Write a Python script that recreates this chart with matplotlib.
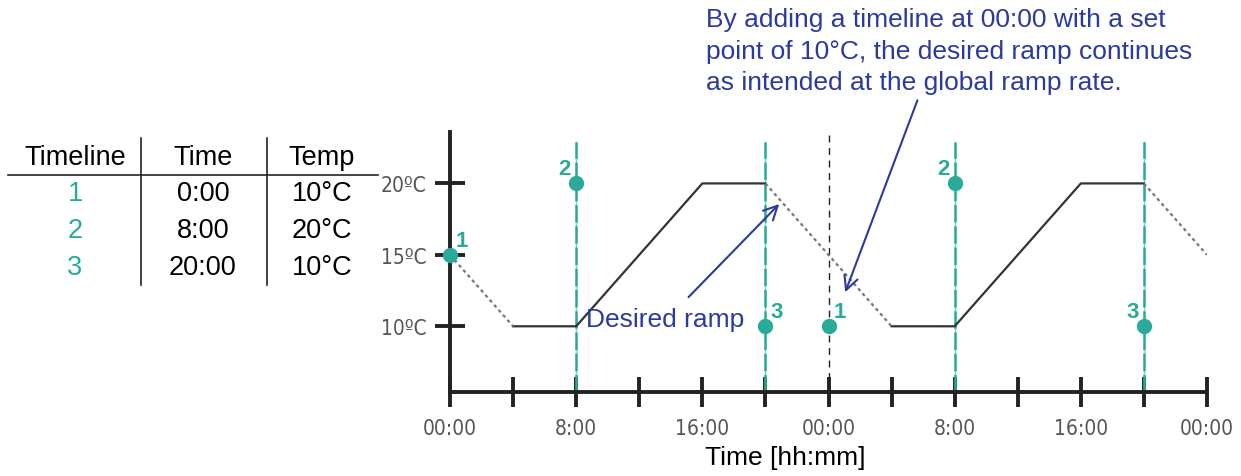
import matplotlib
matplotlib.use("Agg")
import matplotlib.pyplot as plt
from matplotlib.lines import Line2D

plt.rcParams['font.family'] = ['Liberation Sans', 'DejaVu Sans']

# schedule (hours, degC)
solid_x = [[4, 8, 16, 20], [28, 32, 40, 44]]
solid_y = [[10, 10, 20, 20], [10, 10, 20, 20]]
dotted_x = [[0, 4], [20, 28], [44, 48]]
dotted_y = [[15, 10], [20, 10], [20, 15]]

tl_hours = [0, 8, 20, 24, 32, 44]
tl_temps = [15, 20, 10, 10, 20, 10]
tl_labels = ['1', '2', '3', '1', '2', '3']
tl_side = ['r', 'l', 'r', 'r', 'l', 'l']
teal_lines = [8, 20, 32, 44]
black_line = 24

xticks = list(range(0, 49, 4))
xticklabels = ['00:00', '', '8:00', '', '16:00', '', '00:00', '', '8:00', '', '16:00', '', '00:00']
yticks = [10, 15, 20]
yticklabels = ['10\u00baC', '15\u00baC', '20\u00baC']

tab_header = ['Timeline', 'Time', 'Temp']
tab_timeline = ['1', '2', '3']
tab_time = ['0:00', '8:00', '20:00']
tab_temp = ['10°C', '20°C', '10°C']

teal = '#2aaa98'
blue = '#2b3a9e'
gray = '#555555'

W, H = 1241, 477
fig = plt.figure(figsize=(W / 100, H / 100), dpi=100)
ax = fig.add_axes([450 / W, 1 - 393 / H, (1207 - 450) / W, (393 - 133) / H])
ax.set_xlim(0, 48)
ax.set_ylim(5.4, 23.6)

for x in teal_lines:
    ax.plot([x, x], [5.4, 22.9], color=teal, lw=1.0, alpha=0.6, zorder=2)
    ax.plot([x, x], [5.4, 22.9], color=teal, lw=1.8, ls=(0, (7, 1.5)), zorder=2)
ax.plot([black_line, black_line], [5.4, 23.6], color='#222222', lw=1.0, ls=(0, (5, 4)), zorder=2)

for xs, ys in zip(solid_x, solid_y):
    ax.plot(xs, ys, color='#333333', lw=1.6, zorder=3)
for xs, ys in zip(dotted_x, dotted_y):
    ax.plot(xs, ys, color='#777777', lw=1.6, ls=(0, (1.5, 1.5)), zorder=3)

ax.scatter(tl_hours, tl_temps, s=100, color=teal, zorder=5, clip_on=False)
for x, y, t, s in zip(tl_hours, tl_temps, tl_labels, tl_side):
    dx = 0.35 if s == 'r' else -0.35
    ax.text(x + dx, y + 0.3, t, color=teal, fontsize=16, fontweight='bold',
            ha='left' if s == 'r' else 'right', va='bottom')

for s in ['top', 'right']:
    ax.spines[s].set_visible(False)
for s in ['left', 'bottom']:
    ax.spines[s].set_linewidth(2.8)
    ax.spines[s].set_color('#222222')

ax.set_xticks(xticks)
ax.set_xticklabels(xticklabels)
ax.set_yticks(yticks)
ax.set_yticklabels(yticklabels)
ax.tick_params(axis='both', direction='inout', length=22, width=2.8, color='#222222',
               labelcolor=gray)
ax.tick_params(axis='x', pad=8)
ax.tick_params(axis='y', pad=6)
for lab in ax.get_xticklabels() + ax.get_yticklabels():
    lab.set_family('DejaVu Sans')
    lab.set_stretch('condensed')
    lab.set_fontsize(15)
ax.set_xlabel('Time [hh:mm]', fontsize=19)
ax.xaxis.set_label_coords(0.443, -0.205)

ax.text(8.6, 10.5, 'Desired ramp', color=blue, fontsize=19, ha='left', va='center')
ax.annotate('', xy=(21.0, 18.7), xytext=(15.0, 11.9),
            arrowprops=dict(arrowstyle='->', color=blue, lw=1.5, mutation_scale=25))
ax.annotate('', xy=(25.0, 12.2), xytext=(29.7, 26.0), annotation_clip=False,
            arrowprops=dict(arrowstyle='->', color=blue, lw=1.5, mutation_scale=25))

fig.text(706 / W, 1 - 8 / H,
         'By adding a timeline at 00:00 with a set\npoint of 10°C, the desired ramp continues\nas intended at the global ramp rate.',
         color=blue, fontsize=19, ha='left', va='top', linespacing=1.4)

# table
col_x = [75, 203, 322]
row_y = [158, 194, 231, 268]
for cx, t in zip(col_x, tab_header):
    fig.text(cx / W, 1 - row_y[0] / H, t, fontsize=19.5, ha='center', va='center')
for i in range(3):
    y = 1 - row_y[i + 1] / H
    fig.text(col_x[0] / W, y, tab_timeline[i], fontsize=19.5, ha='center', va='center', color=teal)
    fig.text(col_x[1] / W, y, tab_time[i], fontsize=19.5, ha='center', va='center')
    fig.text(col_x[2] / W, y, tab_temp[i], fontsize=19.5, ha='center', va='center')
fig.add_artist(Line2D([8 / W, 378 / W], [1 - 176 / H, 1 - 176 / H], color='#222222', lw=1.2))
for vx in [141, 267]:
    fig.add_artist(Line2D([vx / W, vx / W], [1 - 139 / H, 1 - 286 / H], color='#222222', lw=1.2))

fig.savefig('out.png', dpi=100)
